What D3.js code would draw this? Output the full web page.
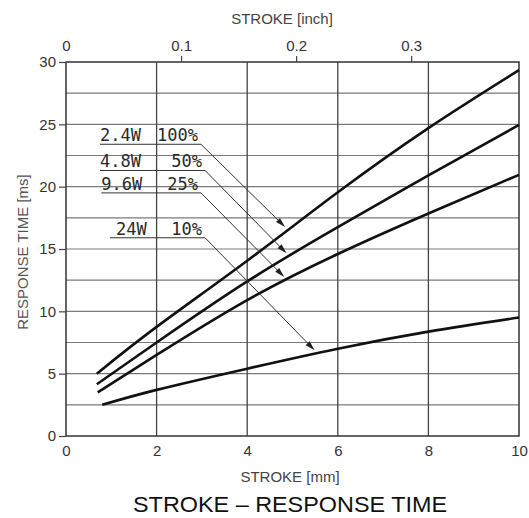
<!DOCTYPE html>
<html><head><meta charset="utf-8">
<script src="https://cdn.jsdelivr.net/npm/d3@7"></script>
<style>
html,body{margin:0;padding:0;background:#fff;}
svg{display:block;}
</style></head>
<body>
<div id="chart"></div>
<script>
// ---- data ----
const strokeMM = [0.68, 2, 4, 6, 8, 10];
const strokeMM3 = [0.7, 2, 4, 6, 8, 10];
const strokeMM4 = [0.8, 2, 4, 6, 8, 10];
const resp100 = [5.0, 8.75, 14.06, 19.55, 24.7, 29.35];
const resp50  = [4.15, 7.5, 12.4, 16.75, 20.9, 24.95];
const resp25  = [3.5, 6.5, 10.9, 14.6, 17.85, 20.95];
const resp10  = [2.5, 3.7, 5.4, 7.0, 8.37, 9.5];
const seriesPower = ["2.4W", "4.8W", "9.6W", "24W"];
const seriesDuty  = ["100%", "50%", "25%", "10%"];
const xTicksMM = [0, 2, 4, 6, 8, 10];
const xTicksInch = [0, 0.1, 0.2, 0.3];
const yTicks = [0, 5, 10, 15, 20, 25, 30];
const yGrid = [2.5, 5, 7.5, 10, 12.5, 15, 17.5, 20, 22.5, 25, 27.5];
const labelY = [23.4, 21.3, 19.5, 15.9];      // underline level (ms)
const labelX0 = [0.75, 0.75, 0.78, 0.97];     // underline start (mm)
const labelX1 = [2.98, 3.07, 2.98, 3.07];     // underline end (mm)
const arrowX = [4.9, 4.93, 4.88, 5.55];       // where arrow meets curve (mm)

const W = 529, H = 518;
const svg = d3.select("#chart").append("svg").attr("width", W).attr("height", H);

const x = d3.scaleLinear().domain([0, 10]).range([66, 519]);
const y = d3.scaleLinear().domain([0, 30]).range([436, 62]);
const xIn = d3.scaleLinear().domain([0, 10/25.4]).range([66, 519]);

const g = svg.append("g");

// grid
g.selectAll(".hg").data(yGrid).enter().append("line")
  .attr("x1", x(0)).attr("x2", x(10)).attr("y1", d => y(d)).attr("y2", d => y(d))
  .attr("stroke", "#7a7a7a").attr("stroke-width", 1.2);
g.selectAll(".vg").data([2,4,6,8]).enter().append("line")
  .attr("x1", d => x(d)).attr("x2", d => x(d)).attr("y1", y(0)).attr("y2", y(30))
  .attr("stroke", "#444").attr("stroke-width", 1.3);

// frame
g.append("rect").attr("x", x(0)).attr("y", y(30)).attr("width", x(10)-x(0)).attr("height", y(0)-y(30))
  .attr("fill", "none").attr("stroke", "#333").attr("stroke-width", 1.5);

const tickFont = "'Liberation Sans Narrow','Liberation Sans',Arial,sans-serif";
// bottom axis (labels only)
const bottomAxis = d3.axisBottom(x).tickValues(xTicksMM).tickSize(0).tickPadding(9).tickFormat(d3.format("d"));
const ba = g.append("g").attr("transform", `translate(0,${y(0)})`).call(bottomAxis);
ba.select(".domain").remove();
ba.selectAll("text").attr("font-family", tickFont).attr("font-size", 15).attr("fill", "#333");

// left axis
const leftAxis = d3.axisLeft(y).tickValues(yTicks).tickSize(7).tickPadding(3).tickFormat(d3.format("d"));
const la = g.append("g").attr("transform", `translate(${x(0)},0)`).call(leftAxis);
la.select(".domain").remove();
la.selectAll("line").attr("stroke", "#444").attr("stroke-width", 1.2);
la.selectAll("text").attr("font-family", tickFont).attr("font-size", 15).attr("fill", "#333");

// top axis (inch)
const topAxis = d3.axisTop(xIn).tickValues(xTicksInch).tickSize(6).tickPadding(5)
  .tickFormat(d => d === 0 ? "0" : d3.format(".1f")(d));
const ta = g.append("g").attr("transform", `translate(0,${y(30)})`).call(topAxis);
ta.select(".domain").remove();
ta.selectAll("line").attr("stroke", "#444").attr("stroke-width", 1.2)
  .attr("opacity", d => d === 0 ? 0 : 1);
ta.selectAll("text").attr("font-family", tickFont).attr("font-size", 15).attr("fill", "#333");

// axis titles
svg.append("text").attr("x", 282).attr("y", 24).attr("text-anchor", "middle")
  .attr("font-family", "'Liberation Sans',Arial,sans-serif").attr("font-size", 15).attr("fill", "#444")
  .text("STROKE [inch]");
svg.append("text").attr("x", 290).attr("y", 482).attr("text-anchor", "middle")
  .attr("font-family", "'Liberation Sans',Arial,sans-serif").attr("font-size", 15).attr("fill", "#444")
  .text("STROKE [mm]");
svg.append("text").attr("transform", "translate(28,252) rotate(-90)").attr("text-anchor", "middle")
  .attr("font-family", "'Liberation Sans',Arial,sans-serif").attr("font-size", 15).attr("fill", "#555")
  .text("RESPONSE TIME [ms]");
svg.append("text").attr("x", 290).attr("y", 512).attr("text-anchor", "middle")
  .attr("font-family", "'Liberation Sans',Arial,sans-serif").attr("font-size", 22).attr("fill", "#111")
  .attr("textLength", 314).attr("lengthAdjust", "spacingAndGlyphs")
  .text("STROKE – RESPONSE TIME");

// curves
const series = [
  {xs: strokeMM, ys: resp100},
  {xs: strokeMM, ys: resp50},
  {xs: strokeMM3, ys: resp25},
  {xs: strokeMM4, ys: resp10}
];
const line = d3.line().x(d => x(d[0])).y(d => y(d[1])).curve(d3.curveNatural);
g.selectAll(".curve").data(series).enter().append("path")
  .attr("d", s => line(s.xs.map((v, i) => [v, s.ys[i]])))
  .attr("fill", "none").attr("stroke", "#111").attr("stroke-width", 2.6).attr("stroke-linecap", "butt");

// labels with leader arrows
const mono = "'DejaVu Sans Mono','Liberation Mono',monospace";
function interp(s, xv) {
  for (let i = 0; i < s.xs.length - 1; i++) {
    if (xv >= s.xs[i] && xv <= s.xs[i+1]) {
      const t = (xv - s.xs[i]) / (s.xs[i+1] - s.xs[i]);
      return s.ys[i] + t * (s.ys[i+1] - s.ys[i]);
    }
  }
  return s.ys[s.ys.length-1];
}
seriesPower.forEach((p, i) => {
  const uy = y(labelY[i]);
  const ux0 = x(labelX0[i]), ux1 = x(labelX1[i]);
  svg.append("text").attr("x", i === 3 ? ux0 + 6 : ux0).attr("y", uy - 3)
    .attr("font-family", mono).attr("font-size", 17).attr("fill", "#2a2a2a").text(p);
  svg.append("text").attr("x", ux1 - 3).attr("y", uy - 3).attr("text-anchor", "end")
    .attr("font-family", mono).attr("font-size", 17).attr("fill", "#2a2a2a").text(seriesDuty[i]);
  svg.append("line").attr("x1", ux0).attr("x2", ux1).attr("y1", uy).attr("y2", uy)
    .attr("stroke", "#333").attr("stroke-width", 1);
  const tx = x(arrowX[i]), ty = y(interp(series[i], arrowX[i]));
  const dx = tx - ux1, dy = ty - uy, L = Math.hypot(dx, dy);
  const ux = dx / L, uyv = dy / L;
  const tipX = tx - ux * 4, tipY = ty - uyv * 4;
  svg.append("line").attr("x1", ux1).attr("y1", uy).attr("x2", tipX - ux * 6).attr("y2", tipY - uyv * 6)
    .attr("stroke", "#333").attr("stroke-width", 1);
  const bl = 10, bw = 2.8;
  const bx = tipX - ux * bl, by = tipY - uyv * bl;
  svg.append("path")
    .attr("d", `M${tipX},${tipY}L${bx - uyv * bw},${by + ux * bw}L${bx + uyv * bw},${by - ux * bw}Z`)
    .attr("fill", "#222");
});
</script>
</body></html>
